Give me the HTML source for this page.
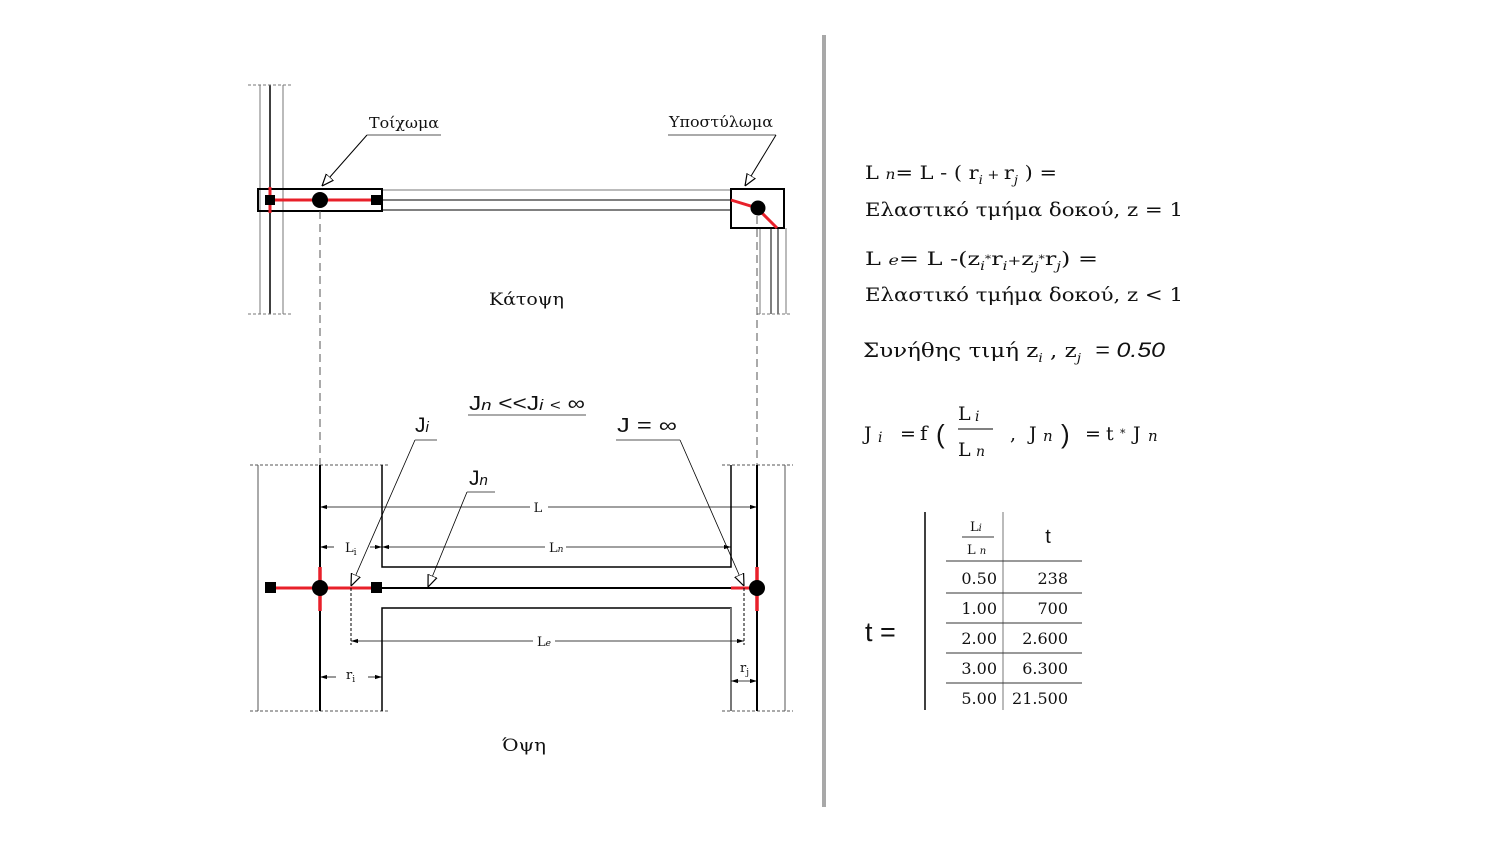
<!DOCTYPE html>
<html><head><meta charset="utf-8"><style>
html,body{margin:0;padding:0;background:#fff}
svg{display:block}
.s{font-family:"DejaVu Serif","Liberation Serif",serif;fill:#111}
.a{font-family:"Liberation Sans","DejaVu Sans",sans-serif;fill:#111}
</style></head><body>
<svg width="1500" height="842" viewBox="0 0 1500 842" xmlns="http://www.w3.org/2000/svg">
<defs>
<marker id="oa" viewBox="0 0 10 10" refX="10" refY="5" markerWidth="12" markerHeight="12" orient="auto" markerUnits="userSpaceOnUse"><path d="M0,1 L10,5 L0,9 Z" fill="#fff" stroke="#000" stroke-width="1"/></marker>
<marker id="da" viewBox="0 0 10 10" refX="10" refY="5" markerWidth="7" markerHeight="7" orient="auto-start-reverse" markerUnits="userSpaceOnUse"><path d="M0,2 L10,5 L0,8 Z" fill="#000"/></marker>
</defs>

<g stroke-width="1">
<line x1="260" y1="85" x2="260" y2="314" stroke="#777"/>
<line x1="270" y1="85" x2="270" y2="314" stroke="#000" stroke-width="1.5"/>
<line x1="283" y1="85" x2="283" y2="314" stroke="#777"/>
<line x1="248" y1="85" x2="292" y2="85" stroke="#777" stroke-dasharray="3,2"/>
<line x1="248" y1="314" x2="292" y2="314" stroke="#777" stroke-dasharray="3,2"/>
<line x1="382" y1="190" x2="730" y2="190" stroke="#777"/>
<line x1="382" y1="200" x2="730" y2="200" stroke="#000"/>
<line x1="382" y1="210" x2="730" y2="210" stroke="#000"/>
<line x1="760" y1="228" x2="760" y2="314" stroke="#777"/>
<line x1="771" y1="228" x2="771" y2="314" stroke="#000"/>
<line x1="778" y1="228" x2="778" y2="314" stroke="#000"/>
<line x1="786" y1="228" x2="786" y2="314" stroke="#777"/>
<line x1="757" y1="314" x2="792" y2="314" stroke="#777" stroke-dasharray="3,2"/>
</g>
<rect x="258" y="189" width="124" height="22" fill="none" stroke="#000" stroke-width="2"/>
<line x1="270" y1="187" x2="270" y2="213" stroke="#e8202a" stroke-width="3"/>
<line x1="270" y1="200" x2="376" y2="200" stroke="#e8202a" stroke-width="3"/>
<rect x="265" y="195" width="10" height="10" fill="#000"/>
<rect x="371" y="195" width="10" height="10" fill="#000"/>
<circle cx="320" cy="200" r="8" fill="#000"/>
<rect x="731" y="189" width="53" height="39" fill="#fff" stroke="#000" stroke-width="2"/>
<polyline points="731,200 757,208 777,228" fill="none" stroke="#e8202a" stroke-width="3"/>
<circle cx="758" cy="208" r="7.5" fill="#000"/>
<line x1="320" y1="211" x2="320" y2="465" stroke="#555" stroke-dasharray="8,5"/>
<line x1="757" y1="216" x2="757" y2="465" stroke="#555" stroke-dasharray="8,5"/>
<text x="369" y="128" class="s" font-size="15" textLength="70" lengthAdjust="spacingAndGlyphs">Τοίχωμα</text>
<line x1="367" y1="135" x2="441" y2="135" stroke="#555"/>
<line x1="367" y1="135" x2="322" y2="186" stroke="#000" marker-end="url(#oa)"/>
<text x="669" y="127" class="s" font-size="15" textLength="104" lengthAdjust="spacingAndGlyphs">Υποστύλωμα</text>
<line x1="668" y1="135" x2="776" y2="135" stroke="#555"/>
<line x1="776" y1="135" x2="745" y2="186" stroke="#000" marker-end="url(#oa)"/>
<text x="489" y="305" class="s" font-size="17" textLength="75" lengthAdjust="spacingAndGlyphs">Κάτοψη</text>

<g>
<line x1="250" y1="465" x2="390" y2="465" stroke="#555" stroke-dasharray="3,2"/>
<line x1="250" y1="711" x2="390" y2="711" stroke="#555" stroke-dasharray="3,2"/>
<line x1="722" y1="465" x2="793" y2="465" stroke="#555" stroke-dasharray="3,2"/>
<line x1="722" y1="711" x2="793" y2="711" stroke="#555" stroke-dasharray="3,2"/>
<line x1="258" y1="465" x2="258" y2="711" stroke="#555"/>
<line x1="320" y1="465" x2="320" y2="711" stroke="#000" stroke-width="2"/>
<polyline points="382,465 382,567 731,567 731,465" fill="none" stroke="#000" stroke-width="1.5"/>
<polyline points="382,711 382,608 731,608 731,711" fill="none" stroke="#000" stroke-width="1.5"/>
<line x1="731" y1="608" x2="731" y2="711" stroke="#777" stroke-width="2"/>
<line x1="757" y1="465" x2="757" y2="711" stroke="#000" stroke-width="2"/>
<line x1="785" y1="465" x2="785" y2="711" stroke="#555"/>
<line x1="382" y1="588" x2="731" y2="588" stroke="#000" stroke-width="2"/>
<line x1="270" y1="588" x2="376" y2="588" stroke="#e8202a" stroke-width="3"/>
<line x1="731" y1="588" x2="757" y2="588" stroke="#e8202a" stroke-width="3"/>
<line x1="320" y1="567" x2="320" y2="611" stroke="#e8202a" stroke-width="3.5"/>
<line x1="757" y1="567" x2="757" y2="611" stroke="#e8202a" stroke-width="3.5"/>
<rect x="265" y="582" width="11" height="11" fill="#000"/>
<rect x="371" y="582" width="11" height="11" fill="#000"/>
<circle cx="320" cy="588" r="8" fill="#000"/>
<circle cx="757" cy="588" r="8" fill="#000"/>
<line x1="351" y1="588" x2="351" y2="645" stroke="#000" stroke-dasharray="3,2"/>
<line x1="744" y1="588" x2="744" y2="645" stroke="#000" stroke-dasharray="3,2"/>
</g>
<g stroke="#000" stroke-width="0.8">
<line x1="320" y1="507" x2="530" y2="507" marker-start="url(#da)"/>
<line x1="548" y1="507" x2="757" y2="507" marker-end="url(#da)"/>
<line x1="320" y1="547" x2="334" y2="547" marker-start="url(#da)"/>
<line x1="370" y1="547" x2="382" y2="547" marker-end="url(#da)"/>
<line x1="382" y1="547" x2="545" y2="547" marker-start="url(#da)"/>
<line x1="566" y1="547" x2="731" y2="547" marker-end="url(#da)"/>
<line x1="351" y1="641" x2="533" y2="641" marker-start="url(#da)"/>
<line x1="555" y1="641" x2="744" y2="641" marker-end="url(#da)"/>
<line x1="320" y1="677" x2="336" y2="677" marker-start="url(#da)"/>
<line x1="368" y1="677" x2="382" y2="677" marker-end="url(#da)"/>
<line x1="731" y1="681" x2="757" y2="681" marker-start="url(#da)" marker-end="url(#da)"/>
</g>
<g class="s" font-size="13">
<text x="538" y="512" text-anchor="middle">L</text>
<text x="345" y="552">L<tspan font-size="9" dy="3">i</tspan></text>
<text x="549" y="552">L<tspan font-size="9" font-style="italic">n</tspan></text>
<text x="537" y="646">L<tspan font-size="9" font-style="italic">e</tspan></text>
<text x="346" y="679">r<tspan font-size="9" dy="3">i</tspan></text>
<text x="740" y="672">r<tspan font-size="9" dy="3">j</tspan></text>
</g>
<text x="415" y="432" class="a" font-size="21">J<tspan font-style="italic" font-size="15">i</tspan></text>
<line x1="415" y1="440" x2="437" y2="440" stroke="#555"/>
<line x1="415" y1="440" x2="351" y2="586" stroke="#000" stroke-width="0.8" marker-end="url(#oa)"/>
<text x="469" y="485" class="a" font-size="21">J<tspan font-style="italic" font-size="15">n</tspan></text>
<line x1="467" y1="492" x2="495" y2="492" stroke="#555"/>
<line x1="467" y1="492" x2="428" y2="587" stroke="#000" stroke-width="0.8" marker-end="url(#oa)"/>
<text x="617" y="432" class="a" font-size="20" textLength="60" lengthAdjust="spacingAndGlyphs">J = ∞</text>
<line x1="616" y1="440" x2="680" y2="440" stroke="#555"/>
<line x1="680" y1="440" x2="744" y2="586" stroke="#000" stroke-width="0.8" marker-end="url(#oa)"/>
<text x="469" y="410" class="a" font-size="20" textLength="116" lengthAdjust="spacingAndGlyphs">J<tspan font-style="italic" font-size="15">n</tspan> &lt;&lt;J<tspan font-style="italic" font-size="15">i</tspan> <tspan font-size="15">&lt;</tspan> ∞</text>
<line x1="468" y1="415" x2="586" y2="415" stroke="#555"/>
<text x="502" y="751" class="s" font-size="17" textLength="44" lengthAdjust="spacingAndGlyphs">Όψη</text>

<line x1="824" y1="35" x2="824" y2="807" stroke="#a8a8a8" stroke-width="4"/>

<g class="s" font-size="19">
<text x="865" y="179" textLength="192" lengthAdjust="spacingAndGlyphs">L <tspan font-style="italic" font-size="14">n</tspan>= L - ( r<tspan font-style="italic" font-size="12" dy="5">i</tspan><tspan dy="-5" font-size="13"> + </tspan>r<tspan font-style="italic" font-size="12" dy="5">j</tspan><tspan dy="-5"> )  =</tspan></text>
<text x="865" y="216" textLength="318" lengthAdjust="spacingAndGlyphs">Ελαστικό τμήμα δοκού, z = 1</text>
<text x="865" y="265" textLength="233" lengthAdjust="spacingAndGlyphs">L <tspan font-style="italic" font-size="14">e</tspan>= L -(z<tspan font-style="italic" font-size="12" dy="5">i</tspan><tspan font-size="10" dy="-8">*</tspan><tspan dy="3">r</tspan><tspan font-style="italic" font-size="12" dy="5">i</tspan><tspan font-size="13" dy="-5">+</tspan>z<tspan font-style="italic" font-size="12" dy="5">j</tspan><tspan font-size="10" dy="-8">*</tspan><tspan dy="3">r</tspan><tspan font-style="italic" font-size="12" dy="5">j</tspan><tspan dy="-5">)  =</tspan></text>
<text x="865" y="301" textLength="318" lengthAdjust="spacingAndGlyphs">Ελαστικό τμήμα δοκού, z &lt; 1</text>
<text x="863" y="357" font-size="20" textLength="218" lengthAdjust="spacingAndGlyphs">Συνήθης τιμή  z<tspan font-style="italic" font-size="12" dy="5">i</tspan><tspan dy="-5"> , z</tspan><tspan font-style="italic" font-size="12" dy="5">j</tspan></text>
<text x="1095" y="357" class="a" font-style="italic" font-size="21" textLength="70" lengthAdjust="spacingAndGlyphs">= 0.50</text>
<text x="864" y="440">J</text><text x="878" y="442" font-style="italic" font-size="14">i</text>
<text x="900" y="440">=</text>
<text x="920" y="440" font-size="20">f</text>
<text x="958" y="420">L</text><text x="975" y="421" font-style="italic" font-size="14">i</text>
<text x="958" y="456">L</text><text x="976" y="456" font-style="italic" font-size="14">n</text>
<text x="1010" y="440">,</text>
<text x="1029" y="440">J</text><text x="1043" y="441" font-style="italic" font-size="15">n</text>
<text x="1085" y="440">=</text>
<text x="1106" y="440">t</text>
<text x="1120" y="437" font-size="11">*</text>
<text x="1133" y="440">J</text><text x="1148" y="441" font-style="italic" font-size="15">n</text>
</g>
<line x1="958" y1="429" x2="993" y2="429" stroke="#000" stroke-width="1"/>
<text x="936" y="443" class="a" font-size="26">(</text>
<text x="1061" y="443" class="a" font-size="26">)</text>

<text x="865" y="641" class="a" font-size="27">t =</text>
<line x1="925" y1="512" x2="925" y2="710" stroke="#000" stroke-width="1.5"/>
<line x1="1003" y1="512" x2="1003" y2="710" stroke="#777"/>
<g stroke="#333" stroke-width="1">
<line x1="946" y1="561" x2="1082" y2="561"/>
<line x1="946" y1="593" x2="1082" y2="593"/>
<line x1="946" y1="623" x2="1082" y2="623"/>
<line x1="946" y1="653" x2="1082" y2="653"/>
<line x1="946" y1="683" x2="1082" y2="683"/>
<line x1="962" y1="537" x2="994" y2="537"/>
</g>
<g class="s" font-size="16">
<text x="970" y="531" font-size="13">L<tspan font-style="italic" font-size="10">i</tspan></text>
<text x="967" y="554" font-size="13">L <tspan font-style="italic" font-size="10">n</tspan></text>
<text x="1048" y="543" class="a" font-size="20" text-anchor="middle">t</text>
<text x="997" y="584" text-anchor="end">0.50</text><text x="1068" y="584" text-anchor="end">238</text>
<text x="997" y="614" text-anchor="end">1.00</text><text x="1068" y="614" text-anchor="end">700</text>
<text x="997" y="644" text-anchor="end">2.00</text><text x="1068" y="644" text-anchor="end">2.600</text>
<text x="997" y="674" text-anchor="end">3.00</text><text x="1068" y="674" text-anchor="end">6.300</text>
<text x="997" y="704" text-anchor="end">5.00</text><text x="1068" y="704" text-anchor="end">21.500</text>
</g>
</svg>
</body></html>
